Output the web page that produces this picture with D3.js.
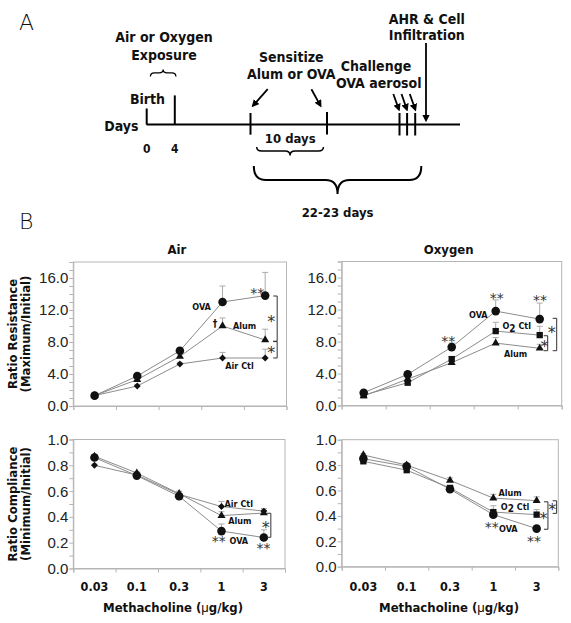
<!DOCTYPE html>
<html><head><meta charset="utf-8">
<script src="https://cdn.jsdelivr.net/npm/d3@7"></script>
<style>
body{margin:0;background:#fff;}
svg{display:block;}
</style></head><body>
<svg id="c" width="571" height="623"></svg>
<script>
// ---------- DATA ----------
const doses = ["0.03", "0.1", "0.3", "1", "3"];
const resTicks = [0, 4, 8, 12, 16];
const compTicks = [0, 0.2, 0.4, 0.6, 0.8, 1.0];

// Air – resistance
const airResOVA  = [1.3, 3.75, 6.9, 13.0, 13.8];
const airResAlum = [1.3, 3.3, 6.2, 10.0, 8.25];
const airResCtl  = [1.3, 2.5, 5.25, 6.0, 6.0];
const airResOVAErr  = [0, 0.3, 0.4, 2.0, 2.9];
const airResAlumErr = [0, 0.2, 0.3, 1.0, 1.35];
const airResCtlErr  = [0, 0.2, 0.2, 0.7, 1.1];

// Oxygen – resistance
const o2ResOVA  = [1.6, 3.9, 7.3, 11.8, 10.8];
const o2ResCtl  = [1.3, 2.85, 5.8, 9.3, 8.8];
const o2ResAlum = [1.2, 3.3, 5.35, 7.8, 7.15];
const o2ResOVAErr  = [0.2, 0.3, 0.5, 1.4, 2.0];
const o2ResCtlErr  = [0, 0.2, 0.3, 1.1, 1.1];
const o2ResAlumErr = [0, 0.1, 0.2, 0.7, 0.5];

// Air – compliance
const airCompOVA  = [0.86, 0.72, 0.56, 0.29, 0.24];
const airCompAlum = [0.87, 0.74, 0.58, 0.41, 0.43];
const airCompCtl  = [0.80, 0.725, 0.575, 0.48, 0.445];
const airCompOVAErr  = [0.01, 0.01, 0.02, 0.055, 0.06];
const airCompAlumErr = [0.01, 0.01, 0.02, 0.03, 0.02];
const airCompCtlErr  = [0.01, 0.01, 0.02, 0.04, 0.02];

// Oxygen – compliance
const o2CompOVA  = [0.85, 0.79, 0.61, 0.41, 0.30];
const o2CompCtl  = [0.83, 0.76, 0.62, 0.43, 0.41];
const o2CompAlum = [0.88, 0.80, 0.68, 0.54, 0.52];
const o2CompOVAErr  = [0.01, 0.01, 0.01, 0.02, 0.02];
const o2CompCtlErr  = [0.01, 0.01, 0.02, 0.05, 0.04];
const o2CompAlumErr = [0.01, 0.01, 0.02, 0.03, 0.03];

// ---------- SETUP ----------
const svg = d3.select("#c");
const BOLD = "'DejaVu Sans Condensed','DejaVu Sans',sans-serif";
const REG = "'Liberation Sans',Arial,sans-serif";

const defs = svg.append("defs");
defs.append("marker").attr("id", "ah").attr("viewBox", "0 0 10 10")
  .attr("refX", 7).attr("refY", 5).attr("markerWidth", 4.2).attr("markerHeight", 4.2)
  .attr("orient", "auto")
  .append("path").attr("d", "M0,0 L10,5 L0,10 z").attr("fill", "#000");

function btext(x, y, t, size, anchor) {
  return svg.append("text").attr("x", x).attr("y", y).attr("text-anchor", anchor || "middle")
    .attr("font-family", BOLD).attr("font-weight", "bold").attr("font-size", size)
    .attr("fill", "#111").text(t);
}

// ---------- PANEL A ----------
svg.append("text").attr("x", 19).attr("y", 30).attr("font-family", "'DejaVu Sans',sans-serif")
  .attr("font-size", 22).attr("font-weight", 300).attr("fill", "#111").text("A");

const TL = 124.5;
svg.append("line").attr("x1", 146.5).attr("x2", 460).attr("y1", TL).attr("y2", TL)
  .attr("stroke", "#000").attr("stroke-width", 2);
const tickLines = [[146.7, 108.5, TL], [174.8, 95.4, TL], [250.5, 113, 134.7], [327, 112, 134.5],
  [399.5, 113, 135.5], [407.1, 113, 135.5], [415.2, 113, 135.5]];
tickLines.forEach(t => svg.append("line").attr("x1", t[0]).attr("x2", t[0]).attr("y1", t[1]).attr("y2", t[2])
  .attr("stroke", "#000").attr("stroke-width", 2));

btext(138.5, 130.5, "Days", 14, "end");
btext(147.5, 104, "Birth", 14);
btext(146.7, 153, "0", 12);
btext(174.8, 153, "4", 12);
btext(164, 41.5, "Air or Oxygen", 14);
btext(164, 60, "Exposure", 14);
btext(291.3, 62, "Sensitize", 14);
btext(291.3, 78.5, "Alum or OVA", 14);
btext(290.2, 143, "10 days", 13);
btext(376, 71, "Challenge", 14);
btext(378.7, 87.5, "OVA aerosol", 14);
btext(426.8, 23.5, "AHR & Cell", 14);
btext(426.8, 40, "Infiltration", 14);
btext(337.6, 216.5, "22-23 days", 13);

const arrows = [[267.7, 89.2, 253.1, 105.6], [311.4, 89.2, 320.4, 105.6],
  [393.3, 94, 398.8, 109.3], [401.5, 94, 406.8, 109.3], [409.8, 94, 415.2, 109.3],
  [426, 43, 426, 120]];
arrows.forEach(a => svg.append("line").attr("x1", a[0]).attr("y1", a[1]).attr("x2", a[2]).attr("y2", a[3])
  .attr("stroke", "#000").attr("stroke-width", 1.8).attr("marker-end", "url(#ah)"));

function brace(x1, x2, y0, yl, tip, r) {
  const xm = (x1 + x2) / 2;
  return `M${x1},${y0} Q${x1},${yl} ${x1 + r},${yl} L${xm - r},${yl} Q${xm},${yl} ${xm},${tip}` +
    ` Q${xm},${yl} ${xm + r},${yl} L${x2 - r},${yl} Q${x2},${yl} ${x2},${y0}`;
}
svg.append("path").attr("d", brace(253.8, 421.3, 166, 180, 194, 12)).attr("fill", "none")
  .attr("stroke", "#000").attr("stroke-width", 2);
svg.append("path").attr("d", brace(256.7, 323.4, 147, 151, 155.5, 5)).attr("fill", "none")
  .attr("stroke", "#000").attr("stroke-width", 1.5);
svg.append("path").attr("d", brace(150.4, 175.9, 76.5, 72.8, 69.5, 4)).attr("fill", "none")
  .attr("stroke", "#000").attr("stroke-width", 1.3);

// ---------- PANEL B ----------
svg.append("text").attr("x", 19).attr("y", 228.5).attr("font-family", "'DejaVu Sans',sans-serif")
  .attr("font-size", 22).attr("font-weight", 300).attr("fill", "#111").text("B");

const SYM = {
  circle: { type: d3.symbolCircle, size: Math.PI * 4.3 * 4.3, rot: 0 },
  triangle: { type: d3.symbolTriangle, size: 28, rot: 0 },
  square: { type: d3.symbolSquare, size: 40, rot: 0 },
  diamond: { type: d3.symbolSquare, size: 24, rot: 45 }
};

function panel(p) {
  const x = d3.scaleBand().domain(doses).range([p.left, p.right]);
  const y = d3.scaleLinear().domain([0, p.max]).range([p.bottom, p.top]);
  const g = svg.append("g");
  const cx = d => x(d) + x.bandwidth() / 2;

  // frame
  g.append("rect").attr("x", p.left).attr("y", y(p.max)).attr("width", p.right - p.left)
    .attr("height", y(0) - y(p.max)).attr("fill", "none").attr("stroke", "#b5b5b5").attr("stroke-width", 1);

  // left minor ticks
  const ya = g.append("g").attr("transform", `translate(${p.left},0)`)
    .call(d3.axisLeft(y).tickValues(d3.range(0, p.max + 1e-9, p.minor)).tickSize(4).tickFormat(""));
  ya.select(".domain").attr("stroke", "#b5b5b5");
  ya.selectAll(".tick line").attr("stroke", "#b5b5b5");

  // tick labels
  g.selectAll(".yl").data(p.ticks).join("text")
    .attr("x", p.left - 5).attr("y", d => y(d)).attr("dy", "0.36em")
    .attr("text-anchor", "end").attr("font-family", REG).attr("font-size", 15).attr("fill", "#222")
    .text(d => d.toFixed(1));

  // bottom ticks at category boundaries
  const xb = d3.scaleLinear().domain([0, doses.length]).range([p.left, p.right]);
  const xa = g.append("g").attr("transform", `translate(0,${y(0)})`)
    .call(d3.axisBottom(xb).tickValues(d3.range(0, doses.length + 1)).tickSize(4).tickFormat(""));
  xa.select(".domain").attr("stroke", "#b5b5b5");
  xa.selectAll(".tick line").attr("stroke", "#b5b5b5");

  if (p.xlabels) {
    g.selectAll(".xl").data(doses).join("text")
      .attr("x", d => cx(d)).attr("y", 591).attr("text-anchor", "middle")
      .attr("font-family", BOLD).attr("font-weight", "bold").attr("font-size", 12.5).attr("fill", "#111")
      .text(d => d);
    const mt = g.append("text").attr("x", p.xtitleX).attr("y", 612).attr("text-anchor", "middle")
      .attr("font-family", BOLD).attr("font-weight", "bold").attr("font-size", 13).attr("fill", "#111");
    mt.append("tspan").text("Methacholine (");
    mt.append("tspan").attr("font-weight", "normal").attr("font-family", REG).text("\u03bc");
    mt.append("tspan").text("g/kg)");
  }
  if (p.title) {
    g.append("text").attr("x", (p.left + p.right) / 2 - 3).attr("y", 254).attr("text-anchor", "middle")
      .attr("font-family", BOLD).attr("font-weight", "bold").attr("font-size", 13).attr("fill", "#111")
      .text(p.title);
  }
  if (p.ytitle) {
    const cy = (y(0) + y(p.max)) / 2;
    p.ytitle.forEach((t, i) => {
      g.append("text").attr("transform", `translate(${[17, 29.5][i]},${cy}) rotate(-90)`)
        .attr("text-anchor", "middle").attr("font-family", BOLD).attr("font-weight", "bold")
        .attr("font-size", 13).attr("fill", "#111").text(t);
    });
  }

  const line = d3.line().x((d, i) => cx(doses[i])).y(d => y(d));
  // lines
  p.series.forEach(s => {
    g.append("path").attr("d", line(s.vals)).attr("fill", "none").attr("stroke", "#8c8c8c").attr("stroke-width", 1);
  });
  // error bars
  p.series.forEach(s => {
    s.vals.forEach((v, i) => {
      const e = s.errs[i];
      if (!e) return;
      const xx = cx(doses[i]);
      g.append("line").attr("x1", xx).attr("x2", xx).attr("y1", y(v)).attr("y2", y(v + e)).attr("stroke", "#aaaaaa");
      g.append("line").attr("x1", xx - 3).attr("x2", xx + 3).attr("y1", y(v + e)).attr("y2", y(v + e)).attr("stroke", "#aaaaaa");
    });
  });
  // markers
  p.series.forEach(s => {
    const sy = SYM[s.sym];
    g.selectAll(null).data(s.vals).join("path")
      .attr("d", d3.symbol(sy.type, sy.size))
      .attr("transform", (d, i) => `translate(${cx(doses[i])},${y(d)}) rotate(${sy.rot})`)
      .attr("fill", "#111");
  });
  // text annotations: [text, dose, dx, value, size, kind]
  p.notes.forEach(n => {
    const t = g.append("text").attr("x", cx(n[1]) + n[2]).attr("y", y(n[3])).attr("text-anchor", "middle");
    if (n[5] === "star") {
      t.attr("font-family", "'DejaVu Sans',sans-serif").attr("font-size", n[4]).attr("fill", "#333")
        .attr("dy", "0.62em").text(n[0]);
    } else if (n[0] === "O2 Ctl") {
      t.attr("font-family", BOLD).attr("font-weight", "bold").attr("font-size", n[4]).attr("fill", "#111").attr("dy", "0.35em");
      t.append("tspan").text("O");
      t.append("tspan").attr("dy", "2.5").attr("font-size", n[4] + 1).text("2");
      t.append("tspan").attr("dy", "-2.5").text(" Ctl");
    } else {
      t.attr("font-family", BOLD).attr("font-weight", "bold").attr("font-size", n[4]).attr("fill", "#111")
        .attr("dy", "0.35em").text(n[0]);
    }
  });
  // brackets: [dose, dx, vTop, vBottom]
  p.brackets.forEach(b => {
    const xx = cx(b[0]) + b[1];
    g.append("path").attr("d", `M${xx - 4},${y(b[2])} H${xx} V${y(b[3])} H${xx - 4}`)
      .attr("fill", "none").attr("stroke", "#333").attr("stroke-width", 1);
  });
}

panel({
  left: 73.3, right: 286.5, top: 262, bottom: 406, max: 18, minor: 1, ticks: resTicks,
  title: "Air", ytitle: ["Ratio Resistance", "(Maximum/Initial)"],
  series: [
    { vals: airResCtl, errs: airResCtlErr, sym: "diamond" },
    { vals: airResAlum, errs: airResAlumErr, sym: "triangle" },
    { vals: airResOVA, errs: airResOVAErr, sym: "circle" }
  ],
  notes: [
    ["OVA", "1", -21, 12.34, 9], ["Alum", "1", 22, 10.0, 9], ["Air Ctl", "1", 17, 5.0, 9],
    ["\u2020", "1", -7.5, 10.35, 10], ["**", "3", -8, 14.6, 14, "star"],
    ["*", "3", 6, 11.1, 16, "star"], ["*", "3", 6, 7.3, 16, "star"]
  ],
  brackets: [["3", 12, 13.75, 8.1], ["3", 12, 8.05, 6.0]]
});

panel({
  left: 341.7, right: 561.7, top: 261.5, bottom: 405.5, max: 18, minor: 1, ticks: resTicks,
  title: "Oxygen",
  series: [
    { vals: o2ResAlum, errs: o2ResAlumErr, sym: "triangle" },
    { vals: o2ResCtl, errs: o2ResCtlErr, sym: "square" },
    { vals: o2ResOVA, errs: o2ResOVAErr, sym: "circle" }
  ],
  notes: [
    ["OVA", "1", -17.4, 11.3, 9], ["O2 Ctl", "1", 21, 9.94, 9], ["Alum", "1", 20, 6.5, 9],
    ["**", "0.3", -3.4, 8.5, 14, "star"], ["**", "1", 1, 13.9, 14, "star"], ["**", "3", 0.3, 13.6, 14, "star"],
    ["*", "3", 12, 9.7, 16, "star"], ["*", "3", 4.8, 7.9, 16, "star"]
  ],
  brackets: [["3", 17, 10.9, 6.85], ["3", 8, 8.72, 6.85]]
});

panel({
  left: 73.3, right: 285, top: 439.5, bottom: 568.5, max: 1, minor: 0.1, ticks: compTicks,
  xlabels: true, xtitleX: 173, ytitle: ["Ratio Compliance", "(Minimum/Initial)"],
  series: [
    { vals: airCompCtl, errs: airCompCtlErr, sym: "diamond" },
    { vals: airCompAlum, errs: airCompAlumErr, sym: "triangle" },
    { vals: airCompOVA, errs: airCompOVAErr, sym: "circle" }
  ],
  notes: [
    ["Air Ctl", "1", 17.3, 0.505, 9], ["Alum", "1", 18.3, 0.37, 9], ["OVA", "1", 17.3, 0.213, 9],
    ["**", "1", -2.7, 0.245, 14, "star"], ["**", "3", -0.3, 0.185, 14, "star"],
    ["*", "3", 2, 0.35, 16, "star"]
  ],
  brackets: [["3", 7, 0.428, 0.242]]
});

panel({
  left: 341.7, right: 558.3, top: 439.7, bottom: 566.7, max: 1, minor: 0.1, ticks: compTicks,
  xlabels: true, xtitleX: 449,
  series: [
    { vals: o2CompAlum, errs: o2CompAlumErr, sym: "triangle" },
    { vals: o2CompCtl, errs: o2CompCtlErr, sym: "square" },
    { vals: o2CompOVA, errs: o2CompOVAErr, sym: "circle" }
  ],
  notes: [
    ["Alum", "1", 16.7, 0.578, 9], ["O2 Ctl", "1", 21.7, 0.472, 9], ["OVA", "1", 15, 0.297, 9],
    ["**", "1", -1.6, 0.345, 14, "star"], ["**", "3", -2.7, 0.235, 14, "star"],
    ["*", "3", 15.5, 0.485, 16, "star"], ["*", "3", 6.8, 0.418, 16, "star"]
  ],
  brackets: [["3", 20, 0.519, 0.42], ["3", 11.3, 0.511, 0.295]]
});
</script>
</body></html>
